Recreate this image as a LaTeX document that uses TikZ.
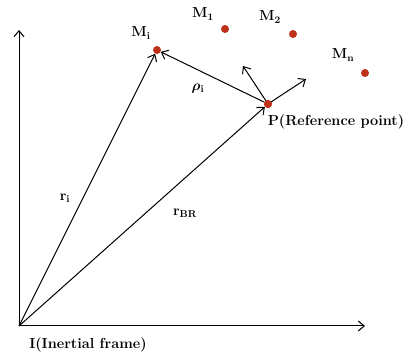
\documentclass[tikz,border=0pt]{standalone}
\usepackage{amsmath,amssymb}
\usepackage{bm}
\usetikzlibrary{arrows.meta}
\begin{document}
\begin{tikzpicture}[x=1pt,y=-1pt,
  vec/.style={draw=black,line width=1pt,-{Straight Barb[length=6pt,width=10pt,line width=1pt]}},
  mass/.style={circle,fill=massred,inner sep=0pt,minimum size=8pt},
  lbl/.style={font=\fontsize{14.5}{16}\selectfont\bfseries,inner sep=0pt}]
\definecolor{massred}{RGB}{190,50,25}
\useasboundingbox (0,0) rectangle (405,358);
\coordinate (O) at (19,326);
\coordinate (Ytop) at (19,30);
\coordinate (Xend) at (365,326);
\node[mass] (Mi) at (157,50) {};
\node[mass] (P) at (268,104) {};
\node[mass] (M1) at (225,29) {};
\node[mass] (M2) at (293,34) {};
\node[mass] (Mn) at (365,73) {};
\coordinate (A1) at (243,66);
\coordinate (A2) at (306,79);
\draw[vec] (O) -- (Ytop);
\draw[vec] (O) -- (Xend);
\draw[vec] (O) -- (Mi);
\draw[vec] (O) -- (P);
\draw[vec] (P) -- (Mi);
\draw[vec] (P.center) -- (A1);
\draw[vec] (P.center) -- (A2);
\node[mass] at (P) {};
\node[lbl] (lMi) at (141,33) {M$_{\mathbf i}$};
\node[lbl] (lM1) at (203,14) {M$_{\mathbf 1}$};
\node[lbl] (lM2) at (270,17) {M$_{\mathbf 2}$};
\node[lbl] (lMn) at (343,55) {M$_{\mathbf n}$};
\node[lbl] (lrho) at (198,89) {$\bm{\rho}_{\mathbf i}$};
\node[lbl] (lP) at (336,122) {P(Reference point)};
\node[lbl] (lri) at (65,198) {r$_{\mathbf i}$};
\node[lbl] (lrbr) at (185,213) {r$_{\mathbf{BR}}$};
\node[lbl] (lI) at (88,345) {I(Inertial frame)};
\end{tikzpicture}
\end{document}
